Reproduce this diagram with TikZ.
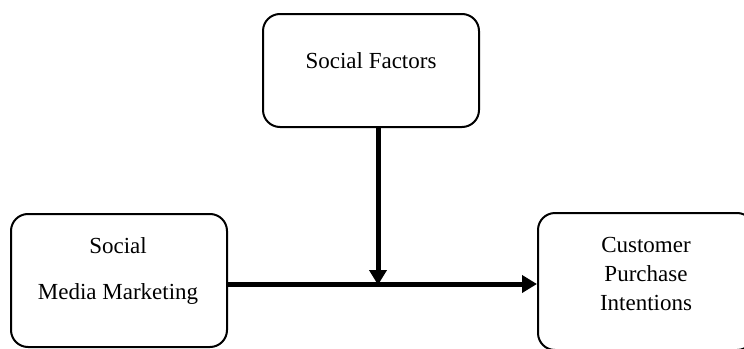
\documentclass[tikz,border=0pt]{standalone}
\usepackage{fontspec}
\setmainfont{Liberation Serif}
\usetikzlibrary{arrows.meta,positioning}

\begin{document}
\begin{tikzpicture}[x=1pt, y=-1pt,
  font=\fontsize{23}{29}\selectfont,
  frame/.style={draw, line width=2pt, rounded corners=17pt, minimum width=216pt},
  caption/.style={align=center, inner sep=0pt},
  link/.style={line width=5pt, -{Triangle[width=17pt,length=15pt]}}]
  \useasboundingbox (0,0) rectangle (744,348);
  \clip (0,0) rectangle (744,348);
  % boxes
  \node[frame, minimum height=113pt] (sf) at (371,70.5) {};
  \node[frame, minimum height=133pt] (smm) at (119,280.5) {};
  \node[frame, minimum height=137pt] (cpi) at (646,281.5) {};
  % texts
  \node[caption] (sflabel) at (371,61) {Social Factors};
  \node[caption] (smmlabel) at (118,270.5) {Social\\[17pt]Media Marketing};
  \node[caption] (cpilabel) at (646,273.5) {Customer\\Purchase\\Intentions};
  % arrows
  \coordinate (meet) at (378,284);
  \draw[link] (smm.east |- meet) -- (cpi.west |- meet);
  \draw[link] (sf.south -| meet) -- ([yshift=-1pt]meet);
\end{tikzpicture}
\end{document}
